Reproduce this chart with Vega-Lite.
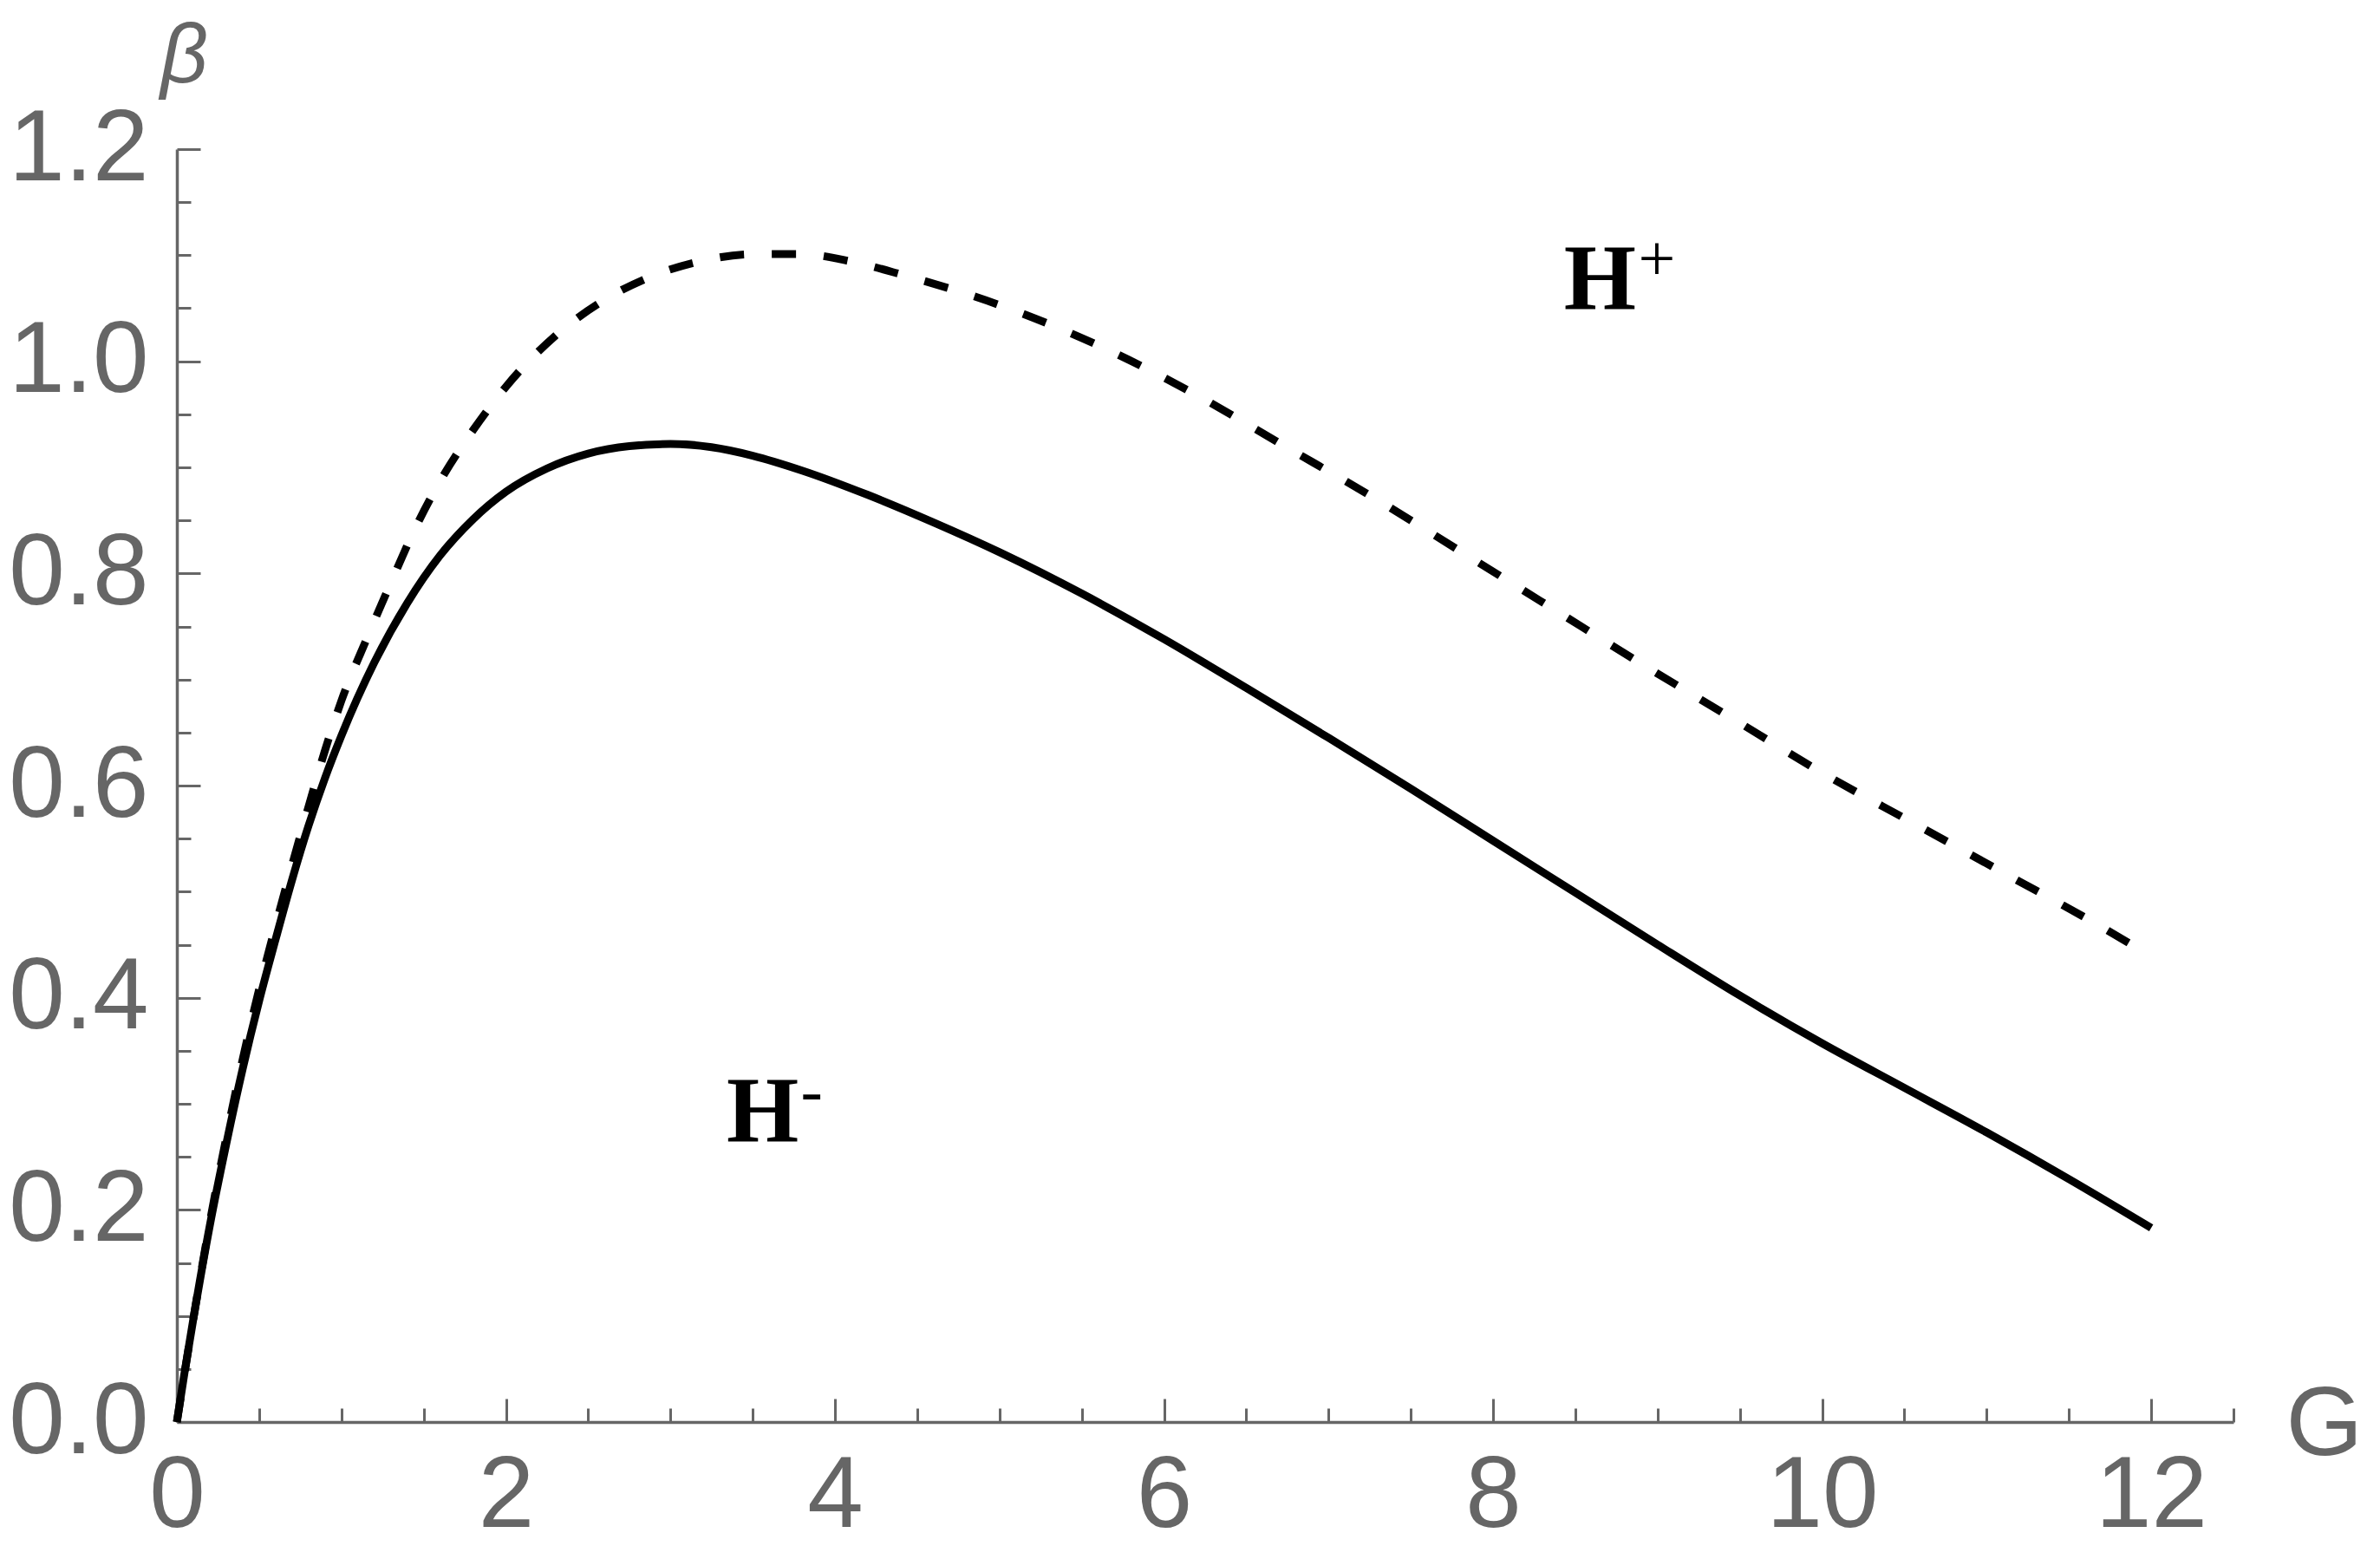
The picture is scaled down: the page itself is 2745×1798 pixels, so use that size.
{
  "$schema": "https://vega.github.io/schema/vega-lite/v6.json",
  "width": 2372,
  "height": 1468,
  "autosize": {"type": "none"},
  "padding": {"left": 204, "top": 172, "right": 169, "bottom": 158},
  "background": "white",
  "config": {
    "view": {"stroke": null},
    "axis": {
      "grid": false,
      "domainColor": "#666666",
      "domainWidth": 3.5,
      "tickColor": "#666666",
      "tickWidth": 3,
      "labelColor": "#666666",
      "labelFont": "Liberation Sans",
      "labelFontSize": 116,
      "labelFontWeight": "normal",
      "labelFlush": false,
      "labelOverlap": false,
      "labelBound": false,
      "titleColor": "#666666",
      "titleFont": "Liberation Sans",
      "titleFontWeight": "normal"
    }
  },
  "datasets": {
    "solid": [
      {"G": 0, "beta": 0},
      {"G": 0.05, "beta": 0.05},
      {"G": 0.1, "beta": 0.097},
      {"G": 0.2, "beta": 0.185},
      {"G": 0.3, "beta": 0.262},
      {"G": 0.4, "beta": 0.333},
      {"G": 0.5, "beta": 0.397},
      {"G": 0.6, "beta": 0.455},
      {"G": 0.7, "beta": 0.511},
      {"G": 0.8, "beta": 0.562},
      {"G": 0.9, "beta": 0.607},
      {"G": 1.0, "beta": 0.647},
      {"G": 1.2, "beta": 0.716},
      {"G": 1.4, "beta": 0.772},
      {"G": 1.6, "beta": 0.817},
      {"G": 1.8, "beta": 0.851},
      {"G": 2.0, "beta": 0.877},
      {"G": 2.25, "beta": 0.899},
      {"G": 2.5, "beta": 0.913},
      {"G": 2.75, "beta": 0.920},
      {"G": 3.0, "beta": 0.922},
      {"G": 3.25, "beta": 0.919},
      {"G": 3.5, "beta": 0.911},
      {"G": 3.8, "beta": 0.897},
      {"G": 4.2, "beta": 0.874},
      {"G": 4.6, "beta": 0.848},
      {"G": 5.0, "beta": 0.820},
      {"G": 5.5, "beta": 0.781},
      {"G": 6.0, "beta": 0.738},
      {"G": 6.5, "beta": 0.692},
      {"G": 7.0, "beta": 0.645},
      {"G": 7.5, "beta": 0.597},
      {"G": 8.0, "beta": 0.548},
      {"G": 8.5, "beta": 0.499},
      {"G": 9.0, "beta": 0.450},
      {"G": 9.5, "beta": 0.402},
      {"G": 10.0, "beta": 0.357},
      {"G": 10.5, "beta": 0.315},
      {"G": 11.0, "beta": 0.273},
      {"G": 11.5, "beta": 0.229},
      {"G": 12.0, "beta": 0.183}
    ],
    "dashed": [
      {"G": 0, "beta": 0},
      {"G": 0.1, "beta": 0.097},
      {"G": 0.2, "beta": 0.188},
      {"G": 0.3, "beta": 0.268},
      {"G": 0.4, "beta": 0.342},
      {"G": 0.5, "beta": 0.408},
      {"G": 0.6, "beta": 0.468},
      {"G": 0.7, "beta": 0.525},
      {"G": 0.8, "beta": 0.58},
      {"G": 0.9, "beta": 0.633},
      {"G": 1.0, "beta": 0.68},
      {"G": 1.15, "beta": 0.737},
      {"G": 1.3, "beta": 0.791},
      {"G": 1.45, "beta": 0.843},
      {"G": 1.6, "beta": 0.887},
      {"G": 1.8, "beta": 0.935},
      {"G": 2.0, "beta": 0.976},
      {"G": 2.3, "beta": 1.024},
      {"G": 2.6, "beta": 1.058},
      {"G": 2.9, "beta": 1.081},
      {"G": 3.2, "beta": 1.095},
      {"G": 3.5, "beta": 1.101},
      {"G": 3.8, "beta": 1.101},
      {"G": 4.1, "beta": 1.094},
      {"G": 4.4, "beta": 1.082},
      {"G": 5.0, "beta": 1.053},
      {"G": 5.6, "beta": 1.015},
      {"G": 6.2, "beta": 0.968},
      {"G": 6.7, "beta": 0.923},
      {"G": 7.3, "beta": 0.869},
      {"G": 7.8, "beta": 0.821},
      {"G": 8.35, "beta": 0.768},
      {"G": 8.9, "beta": 0.715},
      {"G": 9.5, "beta": 0.659},
      {"G": 10.0, "beta": 0.612},
      {"G": 10.55, "beta": 0.565},
      {"G": 11.1, "beta": 0.518},
      {"G": 11.65, "beta": 0.471},
      {"G": 12.0, "beta": 0.439}
    ],
    "labels": [
      {"G": 8.65, "beta": 1.049, "main": "H", "sup": "+"},
      {"G": 3.56, "beta": 0.264, "main": "H", "sup": "-"}
    ]
  },
  "encoding": {
    "x": {
      "field": "G",
      "type": "quantitative",
      "scale": {"domain": [0, 12.5], "nice": false, "zero": false},
      "axis": {
        "values": [0, 0.5, 1, 1.5, 2, 2.5, 3, 3.5, 4, 4.5, 5, 5.5, 6, 6.5, 7, 7.5, 8, 8.5, 9, 9.5, 10, 10.5, 11, 11.5, 12, 12.5],
        "labelExpr": "datum.value % 2 === 0 ? format(datum.value, 'd') : ''",
        "tickSize": {"condition": {"test": "datum.value % 2 === 0", "value": -27}, "value": -16},
        "labelPadding": 147,
        "labelBaseline": "alphabetic",
        "title": "G",
        "titleFontSize": 114,
        "titleX": 2432,
        "titleY": 37,
        "titleAlign": "left",
        "titleBaseline": "alphabetic",
        "titleAngle": 0
      }
    },
    "y": {
      "field": "beta",
      "type": "quantitative",
      "scale": {"domain": [0, 1.2], "nice": false, "zero": false},
      "axis": {
        "values": [0, 0.05, 0.1, 0.15, 0.2, 0.25, 0.3, 0.35, 0.4, 0.45, 0.5, 0.55, 0.6, 0.65, 0.7, 0.75, 0.8, 0.85, 0.9, 0.95, 1, 1.05, 1.1, 1.15, 1.2],
        "labelExpr": "abs(datum.value * 5 - round(datum.value * 5)) < 0.000001 ? format(datum.value, '.1f') : ''",
        "tickSize": {"condition": {"test": "abs(datum.value * 5 - round(datum.value * 5)) < 0.000001", "value": -27}, "value": -16},
        "labelPadding": 60,
        "title": "β",
        "titleFontSize": 96,
        "titleFontStyle": "italic",
        "titleAngle": 0,
        "titleX": 8,
        "titleY": -78,
        "titleAlign": "center",
        "titleBaseline": "alphabetic"
      }
    }
  },
  "layer": [
    {
      "data": {"name": "solid"},
      "mark": {"type": "line", "color": "black", "strokeWidth": 9, "interpolate": "monotone"}
    },
    {
      "data": {"name": "dashed"},
      "mark": {"type": "line", "color": "black", "strokeWidth": 9, "strokeDash": [28, 32], "interpolate": "monotone"}
    },
    {
      "data": {"name": "labels"},
      "mark": {"type": "text", "font": "Liberation Serif", "fontWeight": "bold", "fontSize": 107, "align": "center", "baseline": "alphabetic", "color": "black"},
      "encoding": {"text": {"field": "main"}}
    },
    {
      "data": {"name": "labels"},
      "mark": {"type": "text", "font": "Liberation Serif", "fontWeight": "normal", "fontSize": 76, "align": "left", "baseline": "alphabetic", "dx": 44, "dy": -34, "color": "black"},
      "encoding": {"text": {"field": "sup"}}
    }
  ]
}
